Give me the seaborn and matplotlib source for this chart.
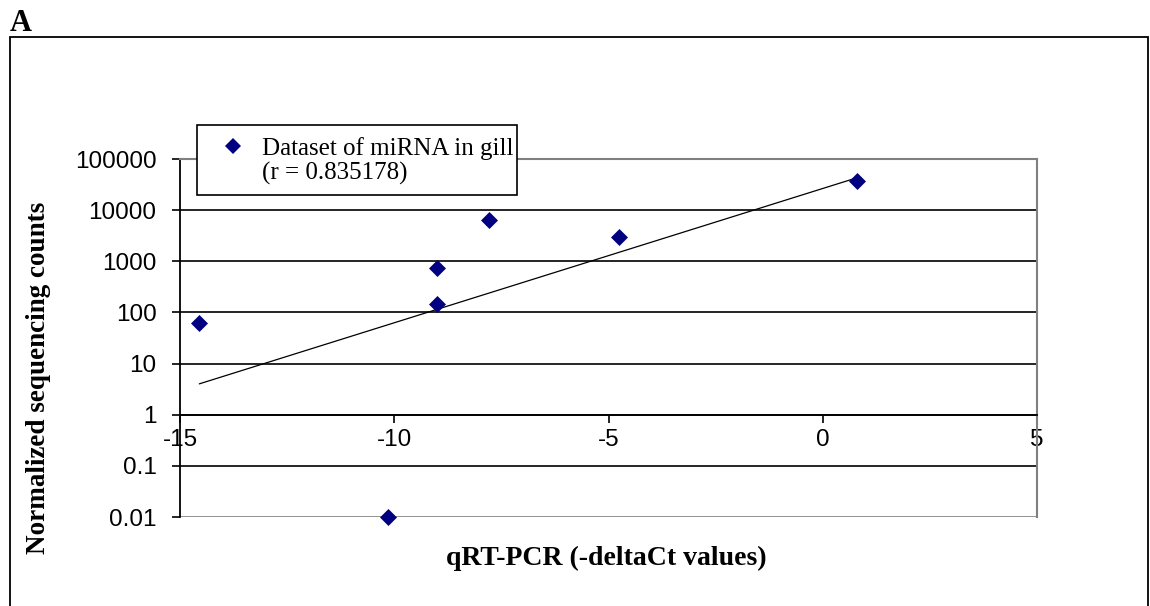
import numpy as np
import matplotlib
matplotlib.use("Agg")
import matplotlib.pyplot as plt
import seaborn as sns
from matplotlib.lines import Line2D
from matplotlib.patches import Rectangle

# values
qpcr = [-14.55, -10.15, -9.0, -9.0, -7.8, -4.75, 0.8]
counts = [63, 0.01, 145, 740, 6300, 2950, 37000]
y_ticks = [0.01, 0.1, 1, 10, 100, 1000, 10000, 100000]
y_labels = ["0.01", "0.1", "1", "10", "100", "1000", "10000", "100000"]
x_ticks = [-15, -10, -5, 0, 5]
x_labels = ["-15", "-10", "-5", "0", "5"]
legend_text = "Dataset of miRNA in gill\n(r = 0.835178)"

W, H = 1150, 606
sns.set_theme(style="white")
plt.rcParams["font.family"] = ["Liberation Sans", "DejaVu Sans"]
plt.rcParams.update({"text.color": "black", "axes.labelcolor": "black",
                     "xtick.color": "black", "ytick.color": "black"})
SERIF = ["Liberation Serif", "DejaVu Serif"]

fig = plt.figure(figsize=(W / 100, H / 100), dpi=100)
fig.patch.set_facecolor("white")
ax = fig.add_axes([180 / W, 1 - 517 / H, 857 / W, 358 / H])

ax.set_yscale("log")
ax.set_xlim(-15, 5)
ax.set_ylim(0.01, 100000)

# exponential trend line (linear fit of log10 counts)
xs = np.array(qpcr)
slope, icpt = np.polyfit(xs, np.log10(counts), 1)
tx = np.array([xs.min(), xs.max()])
sns.lineplot(x=tx, y=10 ** (slope * tx + icpt), color="black", lw=0.9, ax=ax)

sns.scatterplot(x=qpcr, y=counts, marker="D", color="#000080", s=75,
                linewidth=0, clip_on=False, zorder=5, ax=ax)

ax.set_yticks(y_ticks, labels=y_labels)
ax.yaxis.set_minor_locator(matplotlib.ticker.NullLocator())
ax.set_xticks(x_ticks, labels=x_labels)
ax.grid(axis="y", color="black", lw=1.2)
ax.grid(axis="x", visible=False)
gl = ax.get_ygridlines()
gl[0].set_color("#808080")
gl[-1].set_color("#808080")

for s in ["top", "right"]:
    ax.spines[s].set_color("#808080")
    ax.spines[s].set_linewidth(1.5)
ax.spines["left"].set_color("black")
ax.spines["left"].set_linewidth(1.3)
ax.spines["bottom"].set_position(("data", 1))
ax.spines["bottom"].set_color("black")
ax.spines["bottom"].set_linewidth(1.3)

ax.tick_params(axis="y", which="major", left=True, direction="out", length=6,
               width=1.2, color="black", pad=11, labelsize=17.5)
ax.tick_params(axis="x", which="major", bottom=True, direction="out", length=6,
               width=1.2, color="black", pad=4, labelsize=17.5)

ax.set_xlabel("qRT-PCR (-deltaCt values)", family=SERIF, weight="bold",
              fontsize=20, va="center")
ax.xaxis.set_label_coords(0.497, -0.115)
ax.set_ylabel("Normalized sequencing counts", family=SERIF, weight="bold",
              fontsize=19.5, va="center")
ax.yaxis.set_label_coords(-0.165, 0.39)

# legend box sitting across the top of the plot area (drawn by hand)
fig.patches.append(Rectangle((197 / W, 1 - 195 / H), 320 / W, 70 / H,
                             transform=fig.transFigure, facecolor="white",
                             edgecolor="black", lw=1.2, zorder=10))
fig.lines.append(Line2D([233 / W], [1 - 146 / H], transform=fig.transFigure,
                        marker="D", color="#000080", ls="none", markersize=8,
                        markeredgewidth=0, zorder=11))
fig.text(262 / W, 1 - 161 / H, legend_text, family=SERIF, fontsize=18,
         ha="left", va="center", linespacing=1.12, zorder=11)

# outer panel frame and panel letter
fig.patches.append(Rectangle((10 / W, -0.02), 1138 / W, 1 - 37 / H + 0.02,
                             transform=fig.transFigure, fill=False,
                             edgecolor="black", lw=1.3))
fig.text(10 / W, 1 - 31 / H, "A", family=SERIF, weight="bold", fontsize=22,
         ha="left", va="baseline")

fig.savefig("out.png", dpi=100)
